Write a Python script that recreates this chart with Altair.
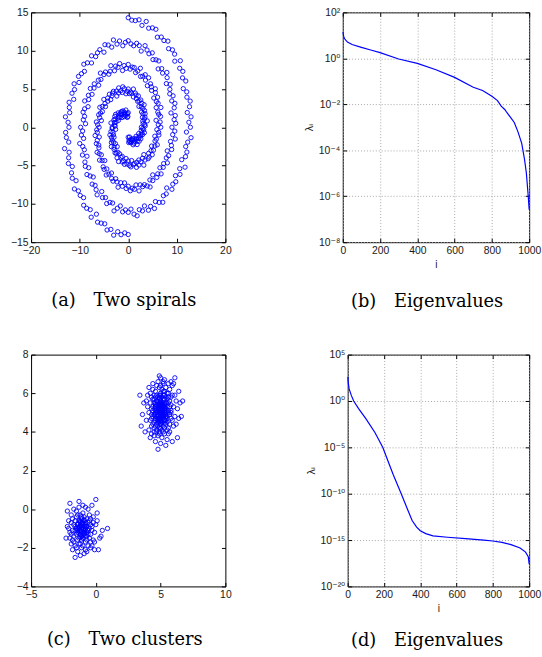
import altair as alt
import numpy as np
import pandas as pd

BLUE = "#0000ff"
TICK = 4

# ---------------- (a) two spirals ----------------
# sampling angle along each arm (degrees); arm 2 is the same path turned by 180 degrees
spiral_deg = [
    90, 93, 96, 99, 102, 105, 108, 111, 114, 117, 120, 123, 126, 129, 132, 135, 138, 141, 144, 147,
    150, 153, 156, 159, 162, 165, 168, 171, 174, 177, 180, 183, 186, 189, 192, 195, 198, 201, 204, 207,
    210, 213, 216, 219, 222, 225, 228, 231, 234, 237, 240, 243, 246, 249, 252, 255, 258, 261, 264, 267,
    270, 273, 276, 279, 282, 285, 288, 291, 294, 297, 300, 303, 306, 309, 312, 315, 318, 321, 324, 327,
    330, 333, 336, 339, 342, 345, 348, 351, 354, 357, 360, 363, 366, 369, 372, 375, 378, 381, 384, 387,
    390, 393, 396, 399, 402, 405, 408, 411, 414, 417, 420, 423, 426, 429, 432, 435, 438, 441, 444, 447,
    450, 453, 456, 459, 462, 465, 468, 471, 474, 477, 480, 483, 486, 489, 492, 495, 498, 501, 504, 507,
    510, 513, 516, 519, 522, 525, 528, 531, 534, 537, 540, 543, 546, 549, 552, 555, 558, 561, 564, 567,
    570, 573, 576, 579, 582, 585, 588, 591, 594, 597, 600, 603, 606, 609, 612, 615, 618, 621, 624, 627,
    630, 633, 636, 639, 642, 645, 648, 651, 654, 657, 660, 663, 666, 669, 672, 675, 678, 681, 684, 687,
    690, 693, 696, 699, 702, 705, 708, 711, 714, 717, 720, 723, 726, 729, 732, 735, 738, 741, 744, 747,
    750, 753, 756, 759, 762, 765, 768, 771, 774, 777, 780, 783, 786, 789, 792, 795, 798, 801, 804, 807,
    810,
]
arm1_r = [
    1.9, 1.4, 1.8, 1.3, 2.3, 1.8, 1.6, 2.1, 1.9, 2.4, 1.6, 2.4, 2.5, 2.1, 2.4, 1.8, 2.8, 2.5, 2.2, 3.1,
    2.4, 3.1, 2.2, 2.9, 3.1, 2.6, 2.9, 3.6, 2.8, 2.7, 3.3, 3.3, 2.6, 3.6, 3.2, 3.9, 3.2, 3.7, 3.2, 3.7,
    4.0, 3.6, 4.3, 3.4, 3.9, 4.1, 3.4, 4.3, 4.2, 3.9, 4.6, 3.9, 4.9, 4.2, 4.0, 4.7, 4.5, 4.9, 4.1, 4.8,
    4.4, 5.0, 5.2, 4.4, 5.0, 4.9, 5.5, 4.9, 5.4, 4.8, 5.2, 5.9, 5.0, 5.5, 4.8, 5.8, 5.8, 5.4, 6.1, 5.6,
    6.0, 5.4, 6.0, 6.4, 5.8, 6.0, 5.6, 6.4, 6.3, 5.9, 6.7, 6.2, 6.6, 5.8, 6.8, 6.5, 6.4, 7.2, 6.3, 6.9,
    6.7, 7.2, 6.5, 7.2, 7.5, 6.8, 7.1, 7.3, 6.7, 7.7, 7.1, 7.7, 7.3, 7.1, 8.1, 7.6, 7.3, 7.9, 7.9, 7.6,
    8.2, 7.7, 8.1, 7.5, 8.5, 8.1, 8.4, 7.9, 8.8, 8.2, 8.0, 8.6, 8.5, 9.1, 8.4, 8.7, 8.2, 9.0, 8.7, 9.3,
    8.6, 9.2, 8.9, 9.6, 8.7, 9.3, 9.5, 9.1, 9.3, 8.8, 9.8, 9.4, 9.7, 9.3, 10.2, 9.7, 9.5, 10.1, 9.3, 10.0,
    10.2, 9.7, 10.5, 10.1, 9.7, 10.5, 10.2, 10.5, 10.9, 10.0, 10.6, 10.3, 10.9, 10.5, 10.4, 11.3, 10.8, 10.4, 11.1, 10.8,
    11.1, 10.7, 11.4, 11.7, 11.0, 11.3, 10.8, 11.6, 11.3, 11.9, 11.2, 11.7, 12.1, 11.5, 11.7, 11.2, 12.1, 11.8, 12.1, 11.6,
    12.3, 11.9, 12.8, 11.8, 12.4, 12.5, 12.1, 12.4, 13.0, 12.0, 12.8, 12.5, 13.0, 12.3, 12.9, 13.2, 12.7, 12.9, 12.4, 13.3,
    12.9, 13.4, 13.1, 13.8, 12.9, 13.5, 13.6, 13.2, 13.9, 13.5, 13.6, 13.2, 14.0, 13.9, 13.6, 14.3, 13.6, 14.2, 14.0, 14.0,
    14.3,
]
arm2_r = [
    1.3, 2.0, 1.7, 1.9, 1.3, 2.1, 2.0, 1.7, 2.5, 1.9, 2.4, 1.8, 2.2, 2.9, 2.0, 2.6, 2.3, 2.9, 2.0, 2.6,
    3.0, 2.5, 2.8, 2.3, 3.1, 2.9, 3.4, 2.7, 3.2, 3.0, 2.7, 3.5, 3.4, 3.1, 4.0, 3.1, 3.5, 3.7, 3.2, 3.9,
    3.5, 4.0, 3.4, 3.9, 4.4, 3.8, 4.2, 3.5, 4.4, 4.1, 3.9, 4.6, 4.1, 4.5, 4.7, 4.1, 5.1, 4.5, 4.6, 4.4,
    5.0, 4.7, 4.4, 5.1, 5.4, 4.7, 5.0, 5.5, 4.9, 5.3, 4.7, 5.6, 5.5, 5.3, 5.8, 5.1, 5.7, 5.4, 6.2, 5.7,
    5.4, 6.0, 6.4, 5.7, 6.0, 6.3, 6.0, 5.6, 6.6, 6.3, 6.0, 6.5, 6.4, 6.9, 6.1, 6.6, 6.9, 6.5, 6.6, 7.2,
    6.9, 6.6, 7.3, 6.9, 6.5, 7.3, 7.4, 7.0, 7.7, 7.3, 6.9, 7.5, 7.7, 7.2, 7.5, 8.1, 7.4, 7.8, 7.3, 8.0,
    7.7, 8.3, 8.0, 8.2, 7.7, 8.6, 7.9, 8.3, 8.2, 8.6, 9.0, 8.2, 8.6, 8.0, 8.8, 8.6, 9.1, 8.4, 8.9, 8.7,
    9.3, 8.8, 9.1, 8.6, 9.4, 9.2, 8.9, 9.8, 9.2, 9.6, 9.0, 9.8, 9.5, 9.8, 9.0, 9.8, 10.1, 9.6, 10.1, 9.6,
    9.9, 10.3, 9.7, 10.3, 10.7, 10.0, 10.3, 9.8, 10.7, 10.5, 10.2, 10.9, 10.5, 10.8, 11.2, 10.3, 10.9, 11.1, 10.7, 10.9,
    11.3, 11.1, 10.7, 11.4, 11.1, 11.8, 11.0, 11.5, 11.8, 11.0, 11.7, 11.6, 11.4, 12.0, 11.3, 11.9, 12.3, 11.6, 11.9, 12.2,
    11.7, 12.5, 12.1, 12.4, 11.8, 12.6, 12.4, 12.2, 13.0, 12.4, 12.2, 12.9, 12.8, 12.4, 13.4, 12.6, 12.9, 13.2, 12.6, 13.1,
    13.3, 12.8, 13.7, 13.2, 13.3, 13.0, 13.7, 13.6, 13.3, 14.0, 13.1, 13.9, 13.7, 13.5, 14.1, 13.8, 14.4, 13.8, 14.1, 13.8,
    14.0,
]

# ---------------- (b) eigenvalues of the spiral graph ----------------
b_i = [1, 5, 10, 25, 50, 100, 150, 200, 300, 400, 500, 600, 700, 750, 800, 830, 850, 870, 880,
       900, 920, 940, 960, 975, 985, 995, 1000]
b_lam = [13.8, 9.0, 7.1, 5.1, 4.0, 3.0, 2.3, 1.78, 0.93, 0.60, 0.32, 0.148, 0.055, 0.040, 0.0224,
         0.0145, 0.0083, 0.0058, 0.0044, 0.0027, 0.00162, 6.3e-4, 2.0e-4, 4.0e-5, 1.0e-5, 1.0e-6, 2.6e-7]

# ---------------- (c) two clusters ----------------
c1_x = [5.1, 4.8, 5.3, 4.6, 5.0, 5.5, 4.9, 4.4, 5.2, 5.7, 4.7, 5.4, 4.5, 5.0, 5.6, 4.3, 5.2, 4.9, 5.8, 4.6,
        5.3, 4.8, 5.1, 5.4, 4.5, 5.0, 5.9, 4.2, 5.6, 4.7, 5.2, 4.4, 5.5, 4.9, 5.1, 4.6, 5.7, 4.8, 5.3, 5.0,
        4.3, 6.0, 4.9, 5.4, 4.7, 5.2, 4.5, 5.6, 5.1, 4.8, 5.3, 4.1, 5.8, 4.6, 5.0, 5.5, 4.4, 5.2, 4.9, 5.7,
        4.2, 5.4, 4.7, 5.9, 5.0, 4.5, 5.3, 4.8, 6.1, 4.3, 5.1, 5.6, 4.6, 5.2, 4.9, 5.5, 4.4, 5.8, 4.7, 5.0,
        5.3, 4.0, 5.6, 4.8, 6.2, 4.5, 5.1, 5.4, 4.9, 5.7, 3.9, 5.2, 4.6, 6.0, 4.3, 5.0, 5.5, 4.7, 5.1, 5.8,
        4.4, 5.3, 6.3, 4.8, 5.0, 4.2, 5.6, 4.9, 5.4, 4.6, 3.7, 5.9, 5.2, 4.5, 6.4, 4.8, 5.3, 4.1, 5.7, 5.0,
        4.7, 6.1, 3.6, 5.5, 4.4, 6.5, 5.1, 4.3, 5.8, 4.0, 6.2, 5.0, 4.9, 3.5, 6.6, 4.2, 5.9, 6.0, 3.4, 5.3,
        6.7, 4.6, 5.0, 4.1, 6.3, 4.8, 5.6, 3.8, 5.2, 4.5, 6.4, 3.9, 5.4, 6.1, 4.7, 5.1, 4.9, 5.3, 4.8, 5.2,
        5.0, 4.6, 5.4, 4.7, 5.5, 4.4, 5.7, 4.9, 5.1, 4.5, 5.8, 5.2, 4.8, 5.6, 4.3, 5.3, 4.9, 5.0, 5.4, 4.6,
        4.95, 5.05, 4.85, 5.15, 5.25, 4.75, 5.0, 4.9, 5.1, 5.2, 4.8, 5.3, 4.7, 5.35, 4.65, 5.05, 4.95, 5.15,
        4.85, 5.25, 5.45, 4.55, 5.0, 5.1, 4.9, 5.2, 4.8, 5.3, 4.7, 5.4, 4.6, 5.5, 5.0, 4.95, 5.05, 5.15,
        4.85, 5.25, 4.75, 5.35, 5.0, 4.9, 5.1, 4.8, 5.2, 5.45, 4.55, 5.3, 4.7, 5.0]
c1_y = [5.2, 4.9, 4.6, 5.4, 5.0, 5.3, 5.7, 4.8, 4.3, 4.9, 4.4, 5.8, 5.9, 4.6, 5.5, 5.2, 5.5, 4.2, 5.1, 5.0,
        5.1, 5.4, 4.8, 4.4, 4.5, 5.9, 4.6, 5.5, 6.0, 5.6, 4.0, 5.7, 4.8, 5.1, 6.2, 4.7, 5.6, 4.5, 5.4, 4.4,
        4.9, 5.3, 6.3, 5.0, 5.2, 5.9, 4.2, 4.2, 4.5, 5.8, 6.1, 5.0, 5.8, 6.1, 5.3, 5.7, 4.4, 5.0, 4.7, 4.4,
        4.6, 6.3, 4.0, 5.9, 5.6, 5.5, 4.9, 5.0, 4.8, 5.8, 5.4, 5.1, 4.3, 6.5, 3.9, 4.5, 6.2, 5.4, 4.8, 4.8,
        5.7, 5.3, 3.9, 6.6, 5.6, 4.0, 5.0, 5.2, 5.3, 6.2, 4.6, 4.7, 5.8, 4.3, 4.3, 6.4, 6.0, 5.9, 3.7, 5.0,
        5.1, 4.2, 5.2, 4.3, 5.1, 6.0, 5.8, 5.5, 4.6, 5.3, 5.5, 6.4, 5.3, 4.9, 4.7, 3.8, 6.7, 4.1, 4.0, 4.2,
        6.4, 5.9, 4.9, 3.6, 6.5, 5.5, 5.8, 3.9, 6.6, 5.9, 4.4, 3.4, 6.9, 4.3, 4.8, 3.7, 3.5, 6.5, 5.9, 3.9,
        5.6, 3.5, 6.8, 6.3, 3.7, 3.1, 6.5, 4.0, 6.6, 3.8, 6.1, 5.6, 3.3, 6.8, 5.0, 4.9, 4.5, 5.3, 5.2, 4.8,
        5.5, 4.6, 5.5, 4.1, 4.1, 5.3, 5.3, 5.9, 4.1, 5.7, 4.7, 6.1, 4.7, 5.0, 4.7, 5.9, 4.0, 6.0, 4.8, 5.5,
        5.05, 4.95, 5.15, 4.85, 5.25, 4.75, 5.35, 4.65, 5.45, 4.55, 5.55, 4.45, 5.6, 4.9, 5.1, 5.3, 4.7, 5.0,
        5.2, 4.8, 5.1, 4.9, 5.6, 4.5, 5.4, 5.7, 4.6, 5.2, 5.0, 4.8, 5.3, 4.7, 4.4, 5.75, 5.5, 5.35,
        4.85, 5.15, 4.65, 5.45, 5.0, 5.25, 4.75, 5.05, 4.95, 5.5, 5.2, 4.6, 5.4, 4.55]
c2_x = [-1.1, -0.8, -1.4, -1.0, -1.3, -0.6, -1.6, -0.9, -1.2, -0.5, -1.7, -1.0, -0.7, -1.5, -1.2, -0.4,
        -1.9, -1.1, -0.8, -1.4, -0.3, -1.8, -1.0, -0.6, -1.3, -0.9, -2.0, -0.5, -1.6, -1.2, -0.2, -1.5,
        -0.7, -1.9, -1.0, -0.4, -1.7, -0.8, -1.3, -0.1, -2.1, -1.1, -0.6, -1.4, -0.3, -2.0, -1.3, 0.0,
        -0.3, 0.9, -2.3, -1.6, -0.9, 0.2, -0.1, -1.8, -2.2, 0.4, -1.9, 0.1, -0.4, -1.2, -0.9, -1.5,
        -0.7, -1.1, -1.8, -0.5, -1.0, -1.6, -0.2, -1.4, -0.8, -1.2, -0.6, -2.0, -0.9, -1.3, 0.3, -1.7,
        -0.4, -1.1, -1.5, -0.3, -2.1, -0.7, -1.0, 0.0, -1.3, -0.5, -1.8, -1.0, -0.8, -1.6, -0.1, -1.2,
        -2.2, 0.1, -0.6, -1.4, 0.5, -1.7, -0.9, -1.1, -1.5, -0.7, -0.2, -1.3, -1.9, -0.4,
        -1.05, -0.95, -1.15, -1.25, -0.85, -1.35, -0.75, -1.0, -1.2, -0.9, -1.1, -1.3, -0.8, -1.4, -0.7,
        -1.05, -1.15, -0.95, -1.25, -0.85, -1.0, -1.3, -0.9, -1.2, -0.8, -1.1, -1.45, -0.65, -1.0, -1.2]
c2_y = [-1.0, -0.7, -1.2, -1.5, -0.6, -1.1, -0.9, -1.3, -0.3, -0.6, -1.4, -0.8, -1.6, -0.4, -1.8, -1.3,
        -0.7, -0.5, -1.0, -1.6, -0.9, -1.1, -0.2, -1.9, -1.0, -0.4, -1.5, -0.3, -1.9, -1.3, -1.6, -0.1,
        -0.5, -0.3, -1.9, -0.8, -0.8, -2.1, 0.1, -1.2, -1.0, -1.6, 0.0, -2.2, -1.9, 0.3, 0.4, 0.5,
        0.2, -1.0, -1.5, -2.5, -2.3, -2.1, -2.1, -2.1, -0.1, -1.4, -1.8, -0.6, -0.5, -0.7, -1.1, -1.3,
        -0.9, -2.0, -0.5, -1.5, 0.2, -1.1, -0.4, -0.8, -1.7, -1.1, -1.3, -1.2, -0.6, -1.5, -1.5, 0.0,
        -2.0, -0.4, -2.0, -1.1, -0.6, -2.2, -1.2, -0.8, -0.9, -1.0, -1.6, -0.7, 0.1, -0.6, -1.7, -2.4,
        -0.9, -0.2, -0.7, -0.3, -1.1, -1.7, -0.9, -1.4, -1.0, -1.4, -0.7, -1.8, -1.3, -1.7,
        -0.95, -1.05, -0.85, -1.15, -1.25, -0.75, -0.9, -1.35, -0.65, -1.2, -1.4, -0.95, -0.8, -1.1, -1.2,
        -0.7, -1.3, -1.0, -0.6, -0.9, -1.5, -1.25, -0.55, -0.85, -1.35, -1.15, -1.0, -1.05, -0.75, -1.45]

# ---------------- (d) eigenvalues of the cluster graph ----------------
d_i = [1, 3, 8, 20, 33, 60, 100, 150, 193, 250, 295, 330, 355, 380, 400, 430, 470, 550, 650,
       750, 800, 850, 900, 950, 980, 995, 1000]
d_lam = [4.0e2, 1.0e2, 20.0, 4.0, 1.0, 0.15, 0.0126, 4.0e-4, 1.0e-5, 1.26e-8, 1.0e-10, 2.0e-12,
         1.26e-13, 2.5e-14, 1.0e-14, 5.0e-15, 2.8e-15, 2.0e-15, 1.4e-15, 1.0e-15, 7.9e-16, 5.6e-16,
         3.2e-16, 1.4e-16, 5.0e-17, 1.6e-17, 2.5e-18]

# ---------------- axis ticks and labels ----------------
a_xticks = [-20, -10, 0, 10, 20]
a_yticks = [-15, -10, -5, 0, 5, 10, 15]
c_xticks = [-5, 0, 5, 10]
c_yticks = [-4, -2, 0, 2, 4, 6, 8]
eig_xticks = [0, 200, 400, 600, 800, 1000]
b_yticks = [1e2, 1e0, 1e-2, 1e-4, 1e-6, 1e-8]
b_ylabels = ["10\u00b2", "10\u2070", "10\u207b\u00b2", "10\u207b\u2074", "10\u207b\u2076", "10\u207b\u2078"]
d_yticks = [1e5, 1e0, 1e-5, 1e-10, 1e-15, 1e-20]
d_ylabels = ["10\u2075", "10\u2070", "10\u207b\u2075", "10\u207b\u00b9\u2070",
             "10\u207b\u00b9\u2075", "10\u207b\u00b2\u2070"]
captions = ["(a)\u2003Two spirals", "(b)\u2003Eigenvalues", "(c)\u2003Two clusters", "(d)\u2003Eigenvalues"]

# ---------------- tables ----------------
rad = np.deg2rad(np.array(spiral_deg, dtype=float))
r1 = np.array(arm1_r)
r2 = np.array(arm2_r)
spiral_df = pd.DataFrame({
    "x": np.concatenate([r1 * np.cos(rad), -r2 * np.cos(rad)]),
    "y": np.concatenate([r1 * np.sin(rad), -r2 * np.sin(rad)]),
})
cluster_df = pd.DataFrame({"x": c1_x + c2_x, "y": c1_y + c2_y})
eig_b = pd.DataFrame({"i": b_i, "lam": b_lam})
eig_d = pd.DataFrame({"i": d_i, "lam": d_lam})


def exp_label_expr(values, labels):
    parts = []
    for v, lab in zip(values, labels):
        e = int(round(np.log10(v)))
        parts.append(f"round(log(datum.value)/LN10) == {e} ? '{lab}'")
    return " : ".join(parts) + " : ''"


def ax(orient, values, labels, grid=False, fmt="d", label_expr=None, title=None):
    kw = dict(
        orient=orient, values=values, offset=-TICK, tickSize=TICK, tickColor="black",
        tickWidth=1, domain=False, labels=labels, grid=grid, title=title,
        labelFont="Liberation Sans, DejaVu Sans", labelFontSize=10.5, labelColor="#1a1a1a",
        labelPadding=3, labelFlush=False, labelOverlap=False, format=fmt,
    )
    if grid:
        kw.update(gridColor="#a8a8a8", gridDash=[1, 2], gridWidth=1)
    if label_expr is not None:
        kw["labelExpr"] = label_expr
    if title is not None:
        kw.update(titleFont="DejaVu Sans", titleFontSize=10, titleFontWeight="normal",
                  titleColor="#1a1a1a")
    return alt.Axis(**kw)


def caption(text, dx, offset):
    return alt.Title(text=text, orient="bottom", anchor="middle", frame="group", dx=dx,
                     offset=offset, baseline="alphabetic", font="DejaVu Serif", fontSize=18,
                     fontWeight="normal", color="black")


def framed(main, frame):
    return alt.layer(main, frame).resolve_axis(x="independent", y="independent")


# (a)
xs_a = alt.Scale(domain=[-20, 20], nice=False, zero=False)
ys_a = alt.Scale(domain=[-15, 15], nice=False, zero=False)
pts_a = alt.Chart(spiral_df).mark_point(shape="circle", filled=False, color=BLUE, size=19,
                                        strokeWidth=0.9, opacity=1).encode(
    x=alt.X("x:Q", scale=xs_a, axis=ax("bottom", a_xticks, True)),
    y=alt.Y("y:Q", scale=ys_a, axis=ax("left", a_yticks, True)),
)
frm_a = alt.Chart(spiral_df).mark_point(opacity=0).encode(
    x=alt.X("x:Q", scale=xs_a, axis=ax("top", a_xticks, False)),
    y=alt.Y("y:Q", scale=ys_a, axis=ax("right", a_yticks, False)),
)
panel_a = framed(pts_a, frm_a).properties(width=197, height=233,
                                          title=caption(captions[0], -4.5, 51))

# (b)
xs_e = alt.Scale(domain=[0, 1000], nice=False, zero=False)
ys_b = alt.Scale(type="log", domain=[1e-8, 1e2], nice=False)
line_b = alt.Chart(eig_b).mark_line(color=BLUE, strokeWidth=1.2).encode(
    x=alt.X("i:Q", scale=xs_e, axis=ax("bottom", eig_xticks, True, grid=True, title="i")),
    y=alt.Y("lam:Q", scale=ys_b, axis=ax("left", b_yticks, True, grid=True, fmt="",
                                         label_expr=exp_label_expr(b_yticks, b_ylabels),
                                         title="\u03bb\u1d62")),
)
frm_b = alt.Chart(eig_b).mark_point(opacity=0).encode(
    x=alt.X("i:Q", scale=xs_e, axis=ax("top", eig_xticks, False)),
    y=alt.Y("lam:Q", scale=ys_b, axis=ax("right", b_yticks, False, fmt="")),
)
panel_b = framed(line_b, frm_b).properties(width=189, height=233,
                                           title=caption(captions[1], -9, 38.5))

# (c)
xs_c = alt.Scale(domain=[-5, 10], nice=False, zero=False)
ys_c = alt.Scale(domain=[-4, 8], nice=False, zero=False)
pts_c = alt.Chart(cluster_df).mark_point(shape="circle", filled=False, color=BLUE, size=19,
                                         strokeWidth=0.9, opacity=1).encode(
    x=alt.X("x:Q", scale=xs_c, axis=ax("bottom", c_xticks, True)),
    y=alt.Y("y:Q", scale=ys_c, axis=ax("left", c_yticks, True)),
)
frm_c = alt.Chart(cluster_df).mark_point(opacity=0).encode(
    x=alt.X("x:Q", scale=xs_c, axis=ax("top", c_xticks, False)),
    y=alt.Y("y:Q", scale=ys_c, axis=ax("right", c_yticks, False)),
)
panel_c = framed(pts_c, frm_c).properties(width=197, height=235,
                                          title=caption(captions[2], -3.5, 46))

# (d)
ys_d = alt.Scale(type="log", domain=[1e-20, 1e5], nice=False)
line_d = alt.Chart(eig_d).mark_line(color=BLUE, strokeWidth=1.2).encode(
    x=alt.X("i:Q", scale=xs_e, axis=ax("bottom", eig_xticks, True, grid=True, title="i")),
    y=alt.Y("lam:Q", scale=ys_d, axis=ax("left", d_yticks, True, grid=True, fmt="",
                                         label_expr=exp_label_expr(d_yticks, d_ylabels),
                                         title="\u03bb\u1d62")),
)
frm_d = alt.Chart(eig_d).mark_point(opacity=0).encode(
    x=alt.X("i:Q", scale=xs_e, axis=ax("top", eig_xticks, False)),
    y=alt.Y("lam:Q", scale=ys_d, axis=ax("right", d_yticks, False, fmt="")),
)
panel_d = framed(line_d, frm_d).properties(width=184, height=235,
                                           title=caption(captions[3], -11.5, 33))

top = alt.hconcat(panel_a, panel_b, spacing=119, bounds="flush")
bottom = alt.hconcat(panel_c, panel_d, spacing=124, bounds="flush")
chart = (
    alt.vconcat(top, bottom, spacing=37, bounds="full")
    .properties(padding={"left": 9.5, "top": 2, "right": 0, "bottom": 0}, background="white")
    .configure_view(stroke="black", strokeWidth=1)
)

chart.save("out.html", embed_options={"renderer": "svg", "actions": False})
